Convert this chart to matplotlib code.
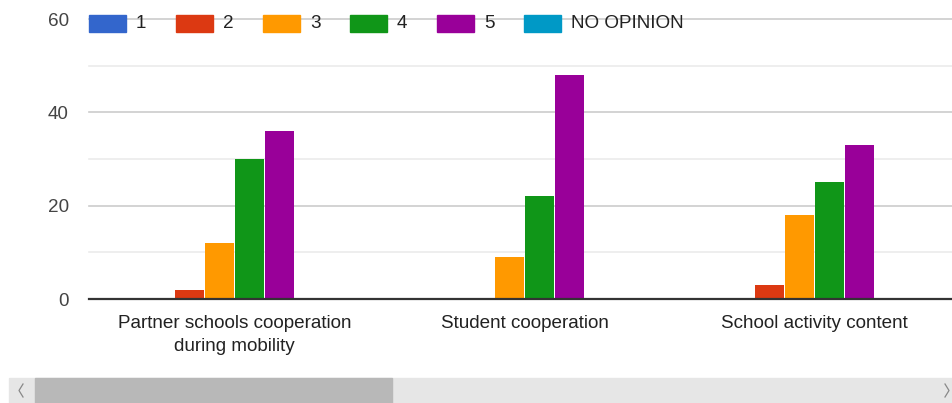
import numpy as np
import matplotlib
matplotlib.use("Agg")
import matplotlib.pyplot as plt
from matplotlib.patches import Rectangle
from matplotlib.lines import Line2D

plt.rcParams['font.family'] = ['Liberation Sans', 'DejaVu Sans']

# data
categories = ["Partner schools cooperation\nduring mobility",
              "Student cooperation",
              "School activity content"]
series = ["1", "2", "3", "4", "5", "NO OPINION"]
colors = ["#3366cc", "#dc3912", "#ff9900", "#109618", "#990099", "#0099c6"]
values = [
    [0, 0, 0],     # 1
    [2, 0, 3],     # 2
    [12, 9, 18],   # 3
    [30, 22, 25],  # 4
    [36, 48, 33],  # 5
    [0, 0, 0],     # NO OPINION
]
yticks = [0, 20, 40, 60]
minor_ticks = [10, 30, 50]

W, H = 952, 403
fig = plt.figure(figsize=(W / 100, H / 100), dpi=100)
ax = fig.add_axes([89 / W, 104 / H, 863 / W, 280 / H])

x = np.arange(len(categories))
step = 30 / 290
width = 29 / 290
for i, (name, col) in enumerate(zip(series, colors)):
    ax.bar(x + (i - 2.5) * step, values[i], width, color=col, zorder=3)

# gridlines
for y in minor_ticks:
    ax.axhline(y, color="#ebebeb", lw=1.2, zorder=1, clip_on=False)
for y in yticks[1:]:
    ax.axhline(y, color="#cccccc", lw=1.2, zorder=1, clip_on=False)
ax.axhline(0, color="#333333", lw=1.6, zorder=4, clip_on=False)

left = -145.5 / 290
ax.set_xlim(left, left + 863 / 290)
ax.set_ylim(0, 60)
ax.set_yticks(yticks)
ax.set_yticklabels([str(t) for t in yticks], fontsize=13.6, color="#444444")
ax.set_xticks(x)
ax.set_xticklabels(categories, fontsize=13.6, color="#222222", linespacing=1.5)
ax.tick_params(axis="y", length=0, pad=14.5)
ax.tick_params(axis="x", length=0, pad=11.5)
for s in ax.spines.values():
    s.set_visible(False)

# legend along the top
for i, (name, col) in enumerate(zip(series, colors)):
    x0 = 89 + 87 * i
    fig.add_artist(Rectangle((x0 / W, 1 - 32 / H), 37 / W, 17 / H,
                             transform=fig.transFigure, color=col, zorder=5))
    fig.text((x0 + 47) / W, 1 - 24 / H, name, fontsize=13.6, color="#222222",
             va="center", ha="left", zorder=5)

# scrollbar under the chart
fig.add_artist(Rectangle((9 / W, 0), (W - 9) / W, 25 / H,
                         transform=fig.transFigure, color="#e6e6e6"))
fig.add_artist(Rectangle((35 / W, 0), (392 - 35) / W, 25 / H,
                         transform=fig.transFigure, color="#b8b8b8"))
fig.add_artist(Line2D([23 / W, 19 / W, 23 / W], [1 - 384 / H, 1 - 390.5 / H, 1 - 397 / H],
                      transform=fig.transFigure, color="#888888", lw=0.9))
fig.add_artist(Line2D([945 / W, 949 / W, 945 / W], [1 - 384 / H, 1 - 390.5 / H, 1 - 397 / H],
                      transform=fig.transFigure, color="#888888", lw=0.9))

fig.savefig("out.png", dpi=100)
